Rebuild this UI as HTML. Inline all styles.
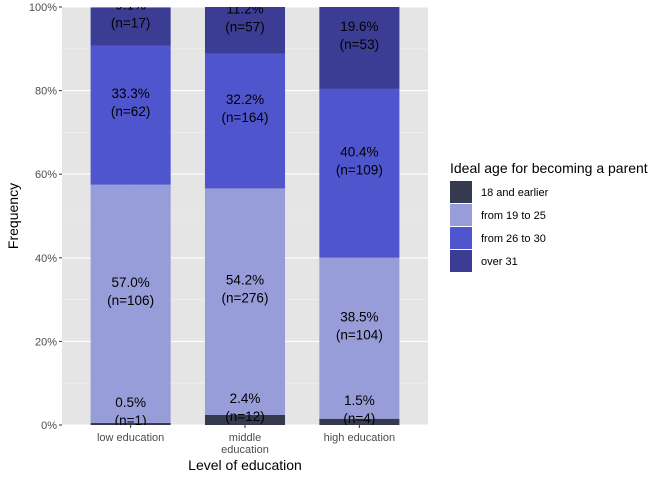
<!DOCTYPE html>
<html><head><meta charset="utf-8"><style>
body{margin:0;background:#fff;font-family:"Liberation Sans",Arial,sans-serif}
</style></head><body>
<svg id="c" width="672" height="480" xmlns="http://www.w3.org/2000/svg"><defs><clipPath id="pc"><rect x="62" y="7" width="366" height="418"/></clipPath></defs></svg>
<script>
const categories=["low education","middle education","high education"];
const catLines=[["low education"],["middle","education"],["high education"]];
const seriesNames=["18 and earlier","from 19 to 25","from 26 to 30","over 31"];
const pct=[[0.5,57.0,33.3,9.1],[2.4,54.2,32.2,11.2],[1.5,38.5,40.4,19.6]];
const counts=[[1,106,62,17],[12,276,164,57],[4,104,109,53]];
const colors=["#363a4f","#979dd8","#4f55cd","#3a3d93"];
const yTicks=[0,20,40,60,80,100];
const NS="http://www.w3.org/2000/svg";
const svg=document.getElementById("c");
function el(t,a,p){const e=document.createElementNS(NS,t);for(const k in a)e.setAttribute(k,a[k]);(p||svg).appendChild(e);return e;}
const L=62,R=428,T=7,B=425;
const y=v=>B-(v/100)*(B-T);
const unit=(R-L)/(categories.length-1+1.2);
const xc=i=>L+unit*(0.6+i);
const bw=unit*0.7;
const panel=el("rect",{x:L,y:T,width:R-L,height:B-T,fill:"#e5e5e5"});


for(let v=10;v<100;v+=20){const g=el("line",{x1:L,x2:R,y1:y(v),y2:y(v),stroke:"#f2f2f2","stroke-width":0.6});

}
yTicks.forEach(v=>{const g=el("line",{x1:L,x2:R,y1:y(v),y2:y(v),stroke:"#fff","stroke-width":1.1});


const tk=el("line",{x1:L-3,x2:L,y1:y(v),y2:y(v),stroke:"#333","stroke-width":1});


const t=el("text",{x:L-5,y:y(v)+4,"text-anchor":"end","font-size":11,fill:"#4d4d4d"});t.textContent=v+"%";

});
categories.forEach((c,i)=>{const g=el("line",{x1:xc(i),x2:xc(i),y1:T,y2:B,stroke:"#fff","stroke-width":1.1});

});
const grp=el("g",{"clip-path":"url(#pc)"});


categories.forEach((c,i)=>{let cum=0;
pct[i].forEach((p,s)=>{const r=el("rect",{x:xc(i)-bw/2,y:y(cum+p),width:bw,height:y(cum)-y(cum+p),fill:colors[s]},grp);


cum+=p;});
cum=0;
pct[i].forEach((p,s)=>{const cy=y(cum+p/2)-14;cum+=p;
const t1=el("text",{x:xc(i),y:cy-3,"text-anchor":"middle","font-size":13.5,fill:"#000"},grp);t1.textContent=p.toFixed(1)+"%";


const t2=el("text",{x:xc(i),y:cy+15,"text-anchor":"middle","font-size":13.5,fill:"#000"},grp);t2.textContent="(n="+counts[i][s]+")";

});
const tk=el("line",{x1:xc(i),x2:xc(i),y1:B,y2:B+3,stroke:"#333"});


catLines[i].forEach((ln,j)=>{const t=el("text",{x:xc(i),y:B+16+j*12,"text-anchor":"middle","font-size":11,fill:"#4d4d4d"});t.textContent=ln;

});});
const xt=el("text",{x:(L+R)/2,y:470,"text-anchor":"middle","font-size":14,fill:"#000"});xt.textContent="Level of education";


const yt=el("text",{x:0,y:0,transform:"translate(18,216) rotate(-90)","text-anchor":"middle","font-size":14,fill:"#000"});yt.textContent="Frequency";


const lt=el("text",{x:450,y:173,"font-size":14,fill:"#000"});lt.textContent="Ideal age for becoming a parent";


seriesNames.forEach((n,s)=>{const ky=181+s*23;
const k=el("rect",{x:450,y:ky,width:22,height:22,fill:colors[s]});


const t=el("text",{x:481,y:ky+15,"font-size":11,fill:"#000"});t.textContent=n;

});
</script>
</body></html>
